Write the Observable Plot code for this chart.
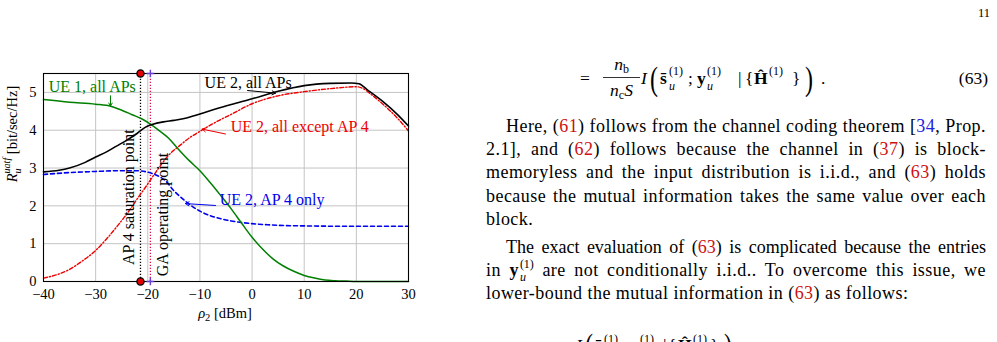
<!DOCTYPE html>
<html><head><meta charset="utf-8">
<script src="https://cdn.jsdelivr.net/npm/d3@7"></script>
<script src="https://cdn.jsdelivr.net/npm/@observablehq/plot@0.6"></script>
<style>
html,body{margin:0;padding:0;background:#fff;}
body{width:997px;height:342px;overflow:hidden;position:relative;font-family:"Liberation Serif",serif;color:#000;}
#chart{position:absolute;left:0;top:0;}
#eq{position:absolute;left:0;top:0;}
.ln{position:absolute;left:486px;width:500px;font-size:18px;line-height:30px;letter-spacing:0.45px;text-align:justify;text-align-last:justify;}
.ln.ind{left:506px;width:480px;}
.ln.last{text-align-last:left;}
.ln.tight{letter-spacing:0;word-spacing:-1px;}
.r{color:#cc1111;}
.b{color:#2222dd;}
.ss{display:inline-flex;flex-direction:column;font-size:12px;line-height:13px;vertical-align:8px;text-align:left;text-align-last:left;margin-left:1px;letter-spacing:0;}
</style>
</head><body>
<div id="chart"></div>
<svg id="eq" width="997" height="342" font-family="Liberation Serif" fill="#000">
  <text x="978" y="17" font-size="12.5">11</text>
  <text x="580" y="84" font-size="17.5">=</text>
  <text x="621.5" y="70" font-size="17.5" text-anchor="middle"><tspan font-style="italic">n</tspan><tspan font-size="12" dy="3">b</tspan></text>
  <line x1="603" x2="640" y1="77.5" y2="77.5" stroke="#000" stroke-width="0.8"/>
  <text x="621.5" y="96" font-size="17.5" text-anchor="middle"><tspan font-style="italic">n</tspan><tspan font-size="12" dy="3">c</tspan><tspan font-style="italic" dy="-3">S</tspan></text>
  <text x="641" y="84" font-size="17.5" font-style="italic">I</text>
  <text transform="translate(650,90) scale(1,1.4)" font-size="24">(</text>
  <text x="660" y="84" font-size="17.5" font-weight="bold">s&#x304;</text>
  <text x="669" y="75" font-size="12">(1)</text>
  <text x="669" y="90" font-size="12" font-style="italic">u</text>
  <text x="688" y="84" font-size="17.5">;</text>
  <text x="697" y="84" font-size="17.5" font-weight="bold">y</text>
  <text x="707" y="75" font-size="12">(1)</text>
  <text x="707" y="90" font-size="12" font-style="italic">u</text>
  <text x="738" y="84" font-size="17.5">|</text>
  <text x="745" y="84" font-size="17.5">{</text>
  <text x="754" y="84" font-size="17.5" font-weight="bold">&#x124;</text>
  <text x="769" y="75" font-size="12">(1)</text>
  <text x="792" y="84" font-size="17.5">}</text>
  <text transform="translate(805,90) scale(1,1.4)" font-size="24">)</text>
  <text x="821" y="84" font-size="17.5">.</text>
  <text x="988" y="84" font-size="17.5" text-anchor="end">(63)</text>
  <text x="576" y="351" font-size="17.5" font-style="italic">I</text>
  <text transform="translate(585,357) scale(1,1.4)" font-size="24">(</text>
  <text x="595" y="351" font-size="17.5" font-weight="bold">s&#x304;</text>
  <text x="604" y="343" font-size="12">(1)</text>
  <text x="622" y="351" font-size="17.5">;</text>
  <text x="630" y="351" font-size="17.5" font-weight="bold">y</text>
  <text x="640" y="343" font-size="12">(1)</text>
  <text x="663" y="351" font-size="17.5">|</text>
  <text x="668" y="351" font-size="17.5">{</text>
  <text x="678" y="351" font-size="17.5" font-weight="bold">&#x124;</text>
  <text x="693" y="343" font-size="12">(1)</text>
  <text x="710" y="351" font-size="17.5">}</text>
  <text transform="translate(724,357) scale(1,1.4)" font-size="24">)</text>
</svg>
<div class="ln ind" style="top:110.5px">Here, (<span class="r">61</span>) follows from the channel coding theorem [<span class="b">34</span>, Prop.</div>
<div class="ln" style="top:133.8px">2.1], and (<span class="r">62</span>) follows because the channel in (<span class="r">37</span>) is block-</div>
<div class="ln" style="top:157.1px">memoryless and the input distribution is i.i.d., and (<span class="r">63</span>) holds</div>
<div class="ln" style="top:180.8px">because the mutual information takes the same value over each</div>
<div class="ln last" style="top:203.8px">block.</div>
<div class="ln ind tight" style="top:231.8px">The exact evaluation of (<span class="r">63</span>) is complicated because the entries</div>
<div class="ln" style="top:255.3px">in <b>y</b><span class="ss"><span>(1)</span><span><i>u</i></span></span> are not conditionally i.i.d.. To overcome this issue, we</div>
<div class="ln last" style="top:278.3px">lower-bound the mutual information in (<span class="r">63</span>) as follows:</div>
<script>
// ---- data ----
const xTicks = [-40, -30, -20, -10, 0, 10, 20, 30];
const yTicks = [0, 1, 2, 3, 4, 5];

const rhoUE1 = [-40,-35,-30,-27,-25,-23,-21,-19.5,-18,-16,-14,-12,-10,-8,-6,-4,-2,0,2,4,6,8,10,12,14,16,18,20,25,30];
const rateUE1 = [4.81,4.74,4.69,4.63,4.53,4.41,4.29,4.16,4.01,3.79,3.48,3.19,2.93,2.61,2.27,1.92,1.54,1.17,0.86,0.60,0.41,0.27,0.16,0.09,0.04,0.02,0.01,0,0,0];

const rhoUE2All = [-40,-37,-35,-32,-30,-28,-26,-24,-22,-21,-20,-19,-17,-15,-13,-10,-7,-4,0,5,10,15,19,20.5,22,25,28,30];
const rateUE2All = [2.90,2.94,3.00,3.15,3.29,3.42,3.58,3.74,3.92,4.03,4.11,4.16,4.22,4.26,4.31,4.43,4.56,4.68,4.83,5.03,5.18,5.24,5.25,5.23,5.08,4.77,4.40,4.11];

const rhoUE2Exc = [-40,-37,-35,-33,-30,-28,-26,-24,-22,-20,-18,-16,-14,-12,-10,-7,-4,0,5,10,15,20,21,23,25,28,30];
const rateUE2Exc = [0.09,0.20,0.32,0.50,0.82,1.11,1.44,1.79,2.19,2.58,2.98,3.34,3.58,3.80,3.97,4.21,4.42,4.70,4.91,5.02,5.10,5.15,5.12,4.93,4.70,4.30,3.98];

const rhoUE2AP4 = [-40,-35,-30,-25,-22,-20,-18,-16.5,-15,-14,-13,-12,-10,-8,-6,-4,-2,0,3,6,10,20,30];
const rateUE2AP4 = [2.83,2.88,2.91,2.93,2.93,2.89,2.79,2.65,2.40,2.27,2.15,2.04,1.86,1.74,1.66,1.60,1.56,1.53,1.50,1.48,1.47,1.46,1.46];

const apSaturation = -21.4;   // dBm
const gaOperating = -19.5;    // dBm
const yMax = 5.5;

const labelText = ["UE 1, all APs", "UE 2, all APs", "UE 2, all except AP 4", "UE 2, AP 4 only"];
const labelRho  = [-39.0, -9.1, -4.1, -6.2];
const labelRate = [5.15, 5.25, 4.08, 2.165];
const arrowRho1  = [-27.15, -0.87, -5.09, -7.01];
const arrowRate1 = [4.91, 5.05, 3.90, 2.01];
const arrowRho2  = [-27.15, 4.5, -9.56, -12.77];
const arrowRate2 = [4.64, 4.98, 4.03, 2.06];

const vText = ["AP 4 saturation point", "GA operating point"];
const vTextRho = [-23.7, -17.1];
const vTextRate = [2.23, 1.77];

// ---- styles ----
const colors = ["#008000", "#000000", "#ee0000", "#0000ee"];

const pts = (xs, ys) => xs.map((x, i) => ({x, y: ys[i]}));
const labels = labelText.map((t, i) => ({t, x: labelRho[i], y: labelRate[i], c: colors[i]}));
const arrows = arrowRho1.map((x1, i) => ({x1, y1: arrowRate1[i], x2: arrowRho2[i], y2: arrowRate2[i], c: colors[i]}));
const vlabels = vText.map((t, i) => ({t, x: vTextRho[i], y: vTextRate[i]}));

const chart = Plot.plot({
  width: 440, height: 342,
  marginLeft: 43, marginRight: 32, marginTop: 73, marginBottom: 61,
  style: {fontFamily: "Liberation Serif", fontSize: "14.5px", color: "#000", background: "transparent"},
  x: {domain: [-40, 30], ticks: xTicks, tickSize: 0, tickPadding: 7, label: null},
  y: {domain: [0, yMax], ticks: yTicks, tickSize: 0, tickPadding: 7, tickFormat: d => String(d), label: null},
  marks: [
    Plot.gridX(xTicks, {stroke: "#c4c4c4", strokeOpacity: 1, strokeWidth: 1}),
    Plot.gridY(yTicks, {stroke: "#c4c4c4", strokeOpacity: 1, strokeWidth: 1}),
    Plot.ruleX([apSaturation], {y1: 0, y2: yMax, stroke: "#000", strokeWidth: 1.3, strokeDasharray: "1.3,1.7"}),
    Plot.ruleX([gaOperating], {y1: 0, y2: yMax, stroke: "#e0104a", strokeWidth: 1.3, strokeDasharray: "1.3,1.7"}),
    Plot.line(pts(rhoUE2Exc, rateUE2Exc), {x: "x", y: "y", stroke: colors[2], strokeWidth: 1.4, strokeDasharray: "4,2,1.2,2", curve: "monotone-x"}),
    Plot.line(pts(rhoUE2AP4, rateUE2AP4), {x: "x", y: "y", stroke: colors[3], strokeWidth: 1.6, strokeDasharray: "4,3", curve: "monotone-x"}),
    Plot.line(pts(rhoUE1, rateUE1), {x: "x", y: "y", stroke: colors[0], strokeWidth: 1.5, curve: "monotone-x"}),
    Plot.line(pts(rhoUE2All, rateUE2All), {x: "x", y: "y", stroke: colors[1], strokeWidth: 1.6, curve: "monotone-x"}),
    Plot.frame({stroke: "#000", strokeWidth: 1.1}),
    Plot.dot([{x: apSaturation, y: 0}, {x: apSaturation, y: yMax}], {x: "x", y: "y", r: 3.6, fill: "#e00000", stroke: "#000", strokeWidth: 1.3}),
    Plot.dot([{x: gaOperating, y: 0}, {x: gaOperating, y: yMax}], {x: "x", y: "y", r: 2.6, symbol: "plus", stroke: "#6a3fd0", strokeWidth: 1.4}),
    Plot.text(vlabels, {x: "x", y: "y", text: "t", rotate: -90, fontSize: 16, fill: "#000"}),
    Plot.arrow(arrows, {x1: "x1", y1: "y1", x2: "x2", y2: "y2", stroke: "c", strokeWidth: 1, headLength: 6}),
    Plot.text(labels, {x: "x", y: "y", text: "t", fill: "c", fontSize: 16, textAnchor: "start"})
  ]
});
document.getElementById("chart").appendChild(chart);

const svg = d3.select(chart);
// x label
const xl = svg.append("text").attr("x", 225).attr("y", 318).attr("text-anchor", "middle").attr("font-size", 14.5);
xl.append("tspan").attr("font-style", "italic").text("ρ");
xl.append("tspan").attr("font-size", 10.5).attr("dy", 3).text("2");
xl.append("tspan").attr("dy", -3).text(" [dBm]");
// y label
const yl = svg.append("text").attr("transform", "translate(17,134) rotate(-90)").attr("text-anchor", "middle").attr("font-size", 14.5);
yl.append("tspan").attr("font-style", "italic").text("R");
yl.append("tspan").attr("font-style", "italic").attr("font-size", 10).attr("dy", 4).text("u");
yl.append("tspan").attr("font-style", "italic").attr("font-size", 10).attr("dx", -5).attr("dy", -11).text("uatf");
yl.append("tspan").attr("dy", 7).text(" [bit/sec/Hz]");
</script>
</body></html>
